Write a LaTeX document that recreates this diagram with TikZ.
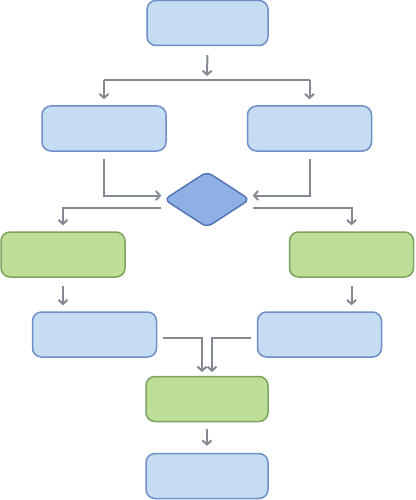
\documentclass[tikz,border=0pt]{standalone}
\usetikzlibrary{arrows.meta,shapes.geometric,calc}
\definecolor{bfill}{RGB}{198,220,242}
\definecolor{bdraw}{RGB}{110,143,200}
\definecolor{dfill}{RGB}{143,176,226}
\definecolor{ddraw}{RGB}{84,118,184}
\definecolor{gfill}{RGB}{190,221,150}
\definecolor{gdraw}{RGB}{124,164,94}
\definecolor{lgray}{RGB}{132,138,148}
\tikzset{
  boxbase/.style={rectangle, rounded corners=9pt, line width=1.5pt, inner sep=0pt, minimum width=124pt, minimum height=45pt},
  bluebox/.style={boxbase, fill=bfill, draw=bdraw},
  greenbox/.style={boxbase, fill=gfill, draw=gdraw},
  decision/.style={diamond, aspect=1.55, fill=dfill, draw=ddraw, line width=1.5pt, inner sep=0pt, minimum width=86pt, minimum height=56pt, rounded corners=6pt},
  ar/.style={draw=lgray, line width=2pt, -{Straight Barb[length=4pt,width=9pt]}},
  ln/.style={draw=lgray, line width=2pt}
}
\begin{document}
\begin{tikzpicture}[x=1pt,y=-1pt]
\useasboundingbox (0,0) rectangle (415,500);
\fill[white] (0,0) rectangle (415,500);
% nodes
\node[bluebox, minimum width=121pt] (b1) at (207.5,23) {};
\node[bluebox] (b2l) at (104,128.5) {};
\node[bluebox] (b2r) at (309.5,128.5) {};
\node[decision] (d) at (207,199.5) {};
\node[greenbox] (g1l) at (63,254.5) {};
\node[greenbox] (g1r) at (351.5,254.5) {};
\node[bluebox] (b3l) at (94.5,334.5) {};
\node[bluebox] (b3r) at (319.5,334.5) {};
\node[greenbox, minimum width=122pt] (g3) at (207,399) {};
\node[bluebox, minimum width=122pt] (b4) at (207,476) {};
% coordinates
\coordinate (s1) at (207,80);
\coordinate (dl) at (161,208);
\coordinate (dr) at (253,208);
\coordinate (ml) at (202,377);
\coordinate (mr) at (212,377);
% connectors
\draw[ar, shorten <=9pt, shorten >=4pt] (b1.south) -- (s1);
\draw[ln] (b2l |- s1) -- (b2r |- s1);
\draw[ar, shorten >=6pt] (b2l |- s1) -- (b2l.north);
\draw[ar, shorten >=6pt] (b2r |- s1) -- (b2r.north);
\draw[ar, shorten <=7pt, shorten >=2pt] (b2l.south) |- ($(d.west)+(0,-4)$);
\draw[ar, shorten <=7pt, shorten >=2pt] (b2r.south) |- ($(d.east)+(0,-4)$);
\draw[ar, shorten >=6pt] (dl) -| (g1l.north);
\draw[ar, shorten >=6pt] (dr) -| (g1r.north);
\draw[ar, shorten <=8pt, shorten >=6pt] (g1l.south) -- (g1l.south |- b3l.north);
\draw[ar, shorten <=8pt, shorten >=6pt] (g1r.south) -- (g1r.south |- b3r.north);
\draw[ar, shorten <=6pt, shorten >=5pt] ($(b3l.east)+(0,3)$) -| (ml);
\draw[ar, shorten <=6pt, shorten >=5pt] ($(b3r.west)+(0,3)$) -| (mr);
\draw[ar, shorten <=7pt, shorten >=7pt] (g3.south) -- (b4.north);
\end{tikzpicture}
\end{document}
